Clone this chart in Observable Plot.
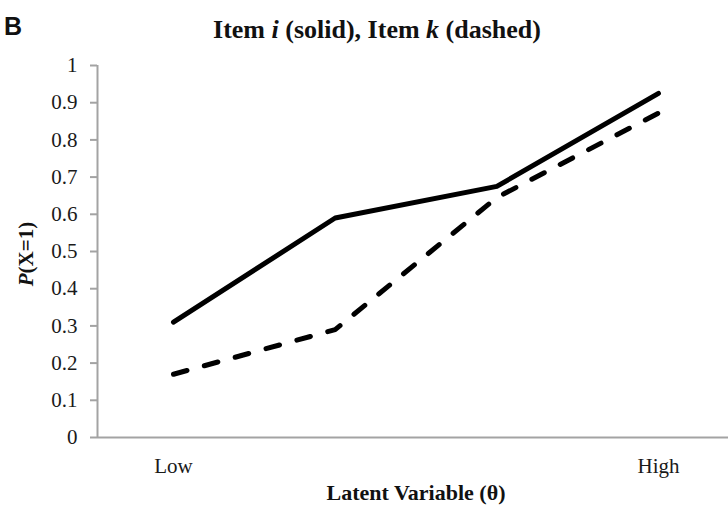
<!DOCTYPE html>
<html>
<head>
<meta charset="utf-8">
<script src="https://cdn.jsdelivr.net/npm/d3@7"></script>
<script src="https://cdn.jsdelivr.net/npm/@observablehq/plot@0.6"></script>
<style>
  html, body { margin: 0; padding: 0; background: #fff; }
  #chart svg { display: block; }
</style>
</head>
<body>
<div id="chart"></div>
<script>
// Categories along the latent variable (only the ends are labelled)
const categories = ["Low", "", "", "High"];
const positions = [1, 2, 3, 4];
// P(X=1) for each item
const itemI = [0.31, 0.59, 0.675, 0.925]; // solid
const itemK = [0.17, 0.29, 0.645, 0.872]; // dashed
const yTicks = [0, 0.1, 0.2, 0.3, 0.4, 0.5, 0.6, 0.7, 0.8, 0.9, 1];
const xTickPositions = [1, 4];
const xTickLabels = ["Low", "High"];

const dataI = positions.map((p, i) => ({x: p, y: itemI[i]}));
const dataK = positions.map((p, i) => ({x: p, y: itemK[i]}));

const serif = "'Liberation Serif', 'Times New Roman', serif";
const axisGray = "#a3a3a3";

const plot = Plot.plot({
  width: 728,
  height: 510,
  marginTop: 65,
  marginBottom: 73,
  marginLeft: 97,
  marginRight: 0,
  style: {background: "#fff", fontFamily: serif},
  x: {type: "linear", domain: [0.53, 4.433], axis: null},
  y: {domain: [0, 1], axis: null},
  marks: [
    Plot.ruleX([0.53], {y1: 0, y2: 1, stroke: axisGray, strokeWidth: 2}),
    Plot.ruleY([0], {stroke: axisGray, strokeWidth: 2}),
    Plot.axisY({
      ticks: yTicks,
      tickSize: 7,
      tickPadding: 13,
      stroke: axisGray,
      strokeWidth: 2,
      fill: "#1a1a1a",
      fontSize: 21,
      fontFamily: serif,
      label: null,
      tickFormat: d => String(+d.toFixed(1))
    }),
    Plot.axisX({
      ticks: xTickPositions,
      tickSize: 0,
      tickPadding: 21,
      fill: "#1a1a1a",
      fontSize: 21,
      fontFamily: serif,
      label: null,
      tickFormat: d => xTickLabels[xTickPositions.indexOf(d)]
    }),
    Plot.line(dataI, {x: "x", y: "y", stroke: "#000", strokeWidth: 5, strokeLinecap: "round", strokeLinejoin: "round"}),
    Plot.line(dataK, {x: "x", y: "y", stroke: "#000", strokeWidth: 5, strokeLinecap: "round", strokeLinejoin: "round", strokeDasharray: "14,18"})
  ]
});

document.getElementById("chart").appendChild(plot);

const svg = d3.select(plot);

// Panel letter
svg.append("text")
  .attr("x", 13).attr("y", 35)
  .attr("font-family", "'Liberation Sans', Arial, sans-serif")
  .attr("font-weight", "bold")
  .attr("font-size", 25)
  .attr("fill", "#111")
  .text("B");

// Title with italic item letters
const title = svg.append("text")
  .attr("x", 377).attr("y", 38)
  .attr("text-anchor", "middle")
  .attr("font-family", serif)
  .attr("font-weight", "bold")
  .attr("font-size", 26)
  .attr("fill", "#111");
title.append("tspan").text("Item ");
title.append("tspan").attr("font-style", "italic").text("i");
title.append("tspan").text(" (solid), Item ");
title.append("tspan").attr("font-style", "italic").text("k");
title.append("tspan").text(" (dashed)");

// Y axis label
const ylab = svg.append("text")
  .attr("transform", "translate(33,254) rotate(-90)")
  .attr("text-anchor", "middle")
  .attr("font-family", serif)
  .attr("font-weight", "bold")
  .attr("font-size", 21)
  .attr("fill", "#111");
ylab.append("tspan").attr("font-style", "italic").text("P");
ylab.append("tspan").text("(X=1)");

// X axis label
svg.append("text")
  .attr("x", 416).attr("y", 500)
  .attr("text-anchor", "middle")
  .attr("font-family", serif)
  .attr("font-weight", "bold")
  .attr("font-size", 22)
  .attr("fill", "#111")
  .text("Latent Variable (θ)");
</script>
</body>
</html>
